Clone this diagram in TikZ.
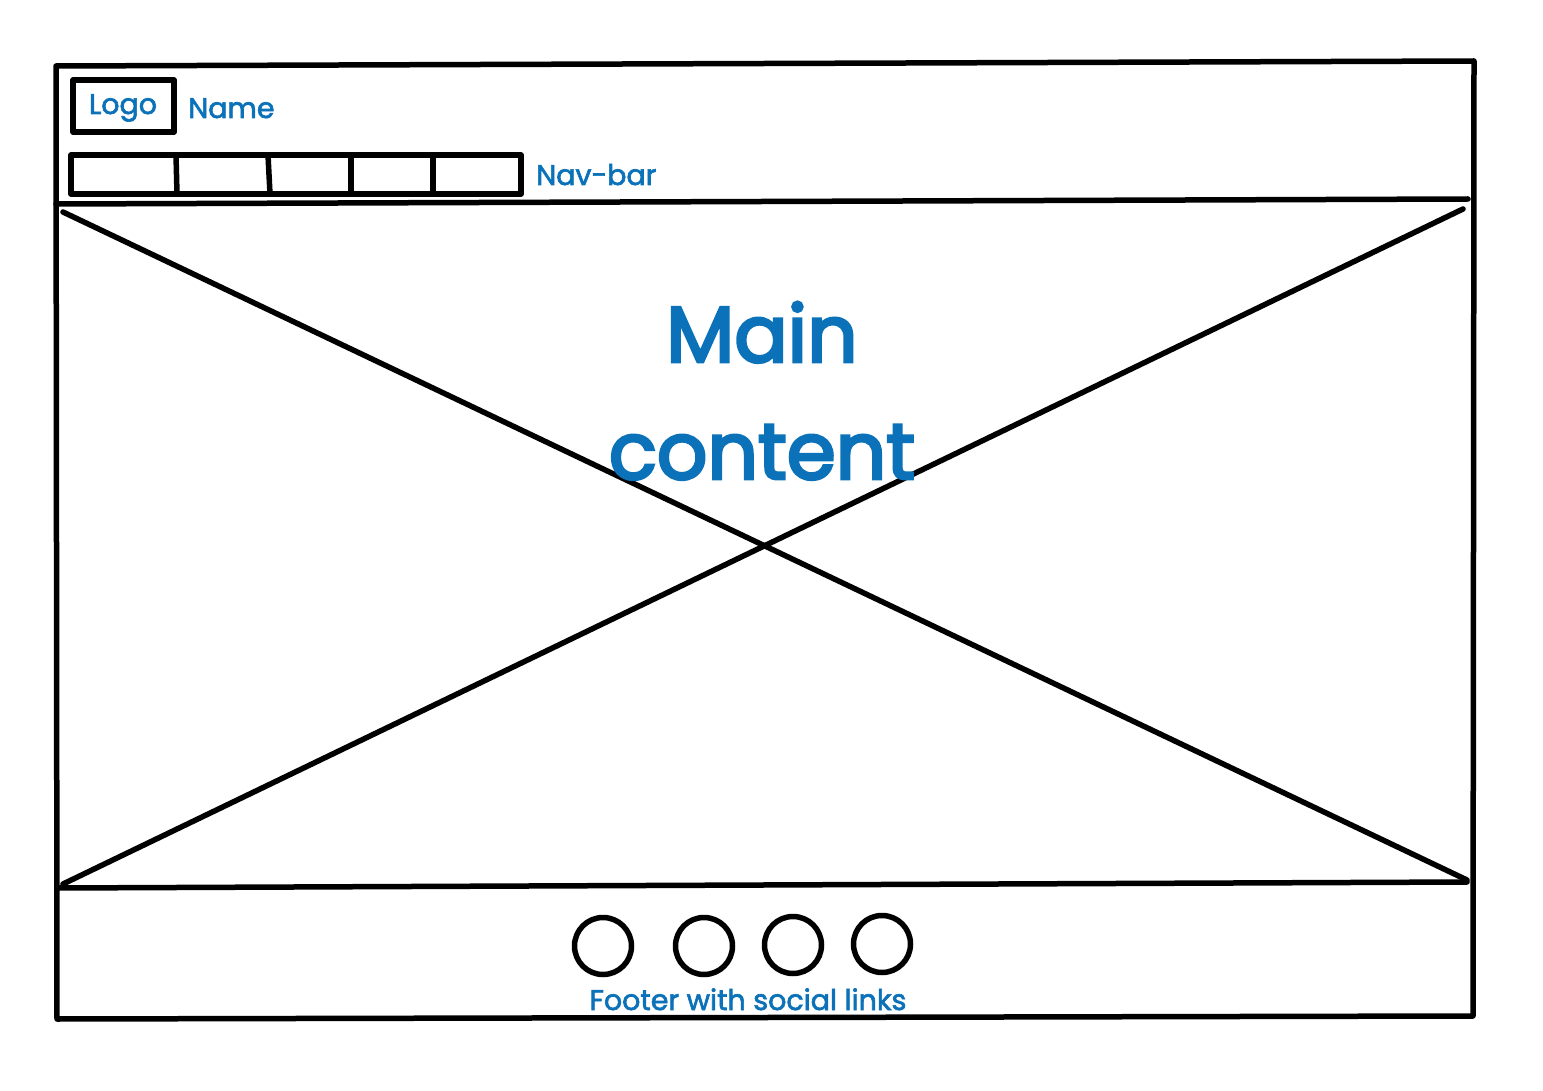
\documentclass[tikz,border=0pt]{standalone}
\usepackage{fontspec}
\setmainfont{Poppins}
\newfontfamily\labelfont{Poppins}[FakeBold=2.2]
\newfontfamily\headingfont{Poppins}[FakeBold=3.6]
\definecolor{inkblue}{RGB}{11,114,185}
\begin{document}
\begin{tikzpicture}[x=1pt,y=-1pt,
  sketch/.style={draw=black,line width=5.5pt,line cap=round,line join=round},
  label/.style={text=inkblue,inner sep=0pt,anchor=base,font=\labelfont\fontsize{28.5}{33}\selectfont},
  heading/.style={text=inkblue,inner sep=0pt,anchor=base,font=\headingfont\fontsize{79}{100}\selectfont},
  social/.style={sketch,circle,minimum size=57pt,inner sep=0pt}]
\useasboundingbox (0,0) rectangle (1543,1091);
\fill[white] (0,0) rectangle (1543,1091);
% page frame corners
\coordinate (tl) at (56,66);
\coordinate (tr) at (1474,61);
\coordinate (br) at (1473,1016);
\coordinate (bl) at (57,1019);
\draw[sketch] (tl) -- (tr) -- (br) -- (bl) -- cycle;
% header and footer separators
\coordinate (hl) at (56,204);
\coordinate (hr) at (1468,199);
\coordinate (fl) at (58,888);
\coordinate (fr) at (1467,882);
\draw[sketch] (hl) -- (hr);
\draw[sketch] (fl) -- (fr);
% image placeholder cross
\coordinate (x1) at (63,212);
\coordinate (x2) at (1467,880);
\coordinate (x3) at (1463,209);
\coordinate (x4) at (63,884);
\draw[sketch] (x1) -- (x2);
\draw[sketch] (x3) -- (x4);
% logo box and name
\draw[sketch] (73,80) rectangle (174,132);
\node[label] (logo) at (123,114) {Logo};
\node[label,anchor=base west] (name) at (188,118) {Name};
% navigation bar with five tabs
\draw[sketch] (71,155) rectangle (521,194);
\draw[sketch] (176,155) -- (177,194);
\draw[sketch] (268,155) -- (270,194);
\draw[sketch] (351,155) -- (351,194);
\draw[sketch] (433,155) -- (433,194);
\node[label,anchor=base west] (nav) at (536,185) {Nav-bar};
% main content heading
\node[heading] (main) at (762,362) {Main};
\node[heading] (content) at (762,479) {content};
% footer social links
\node[social] (s1) at (603,946) {};
\node[social] (s2) at (704,946) {};
\node[social] (s3) at (793,945) {};
\node[social] (s4) at (882,944) {};
\node[label] (foot) at (748,1010) {Footer with social links};
\end{tikzpicture}
\end{document}
